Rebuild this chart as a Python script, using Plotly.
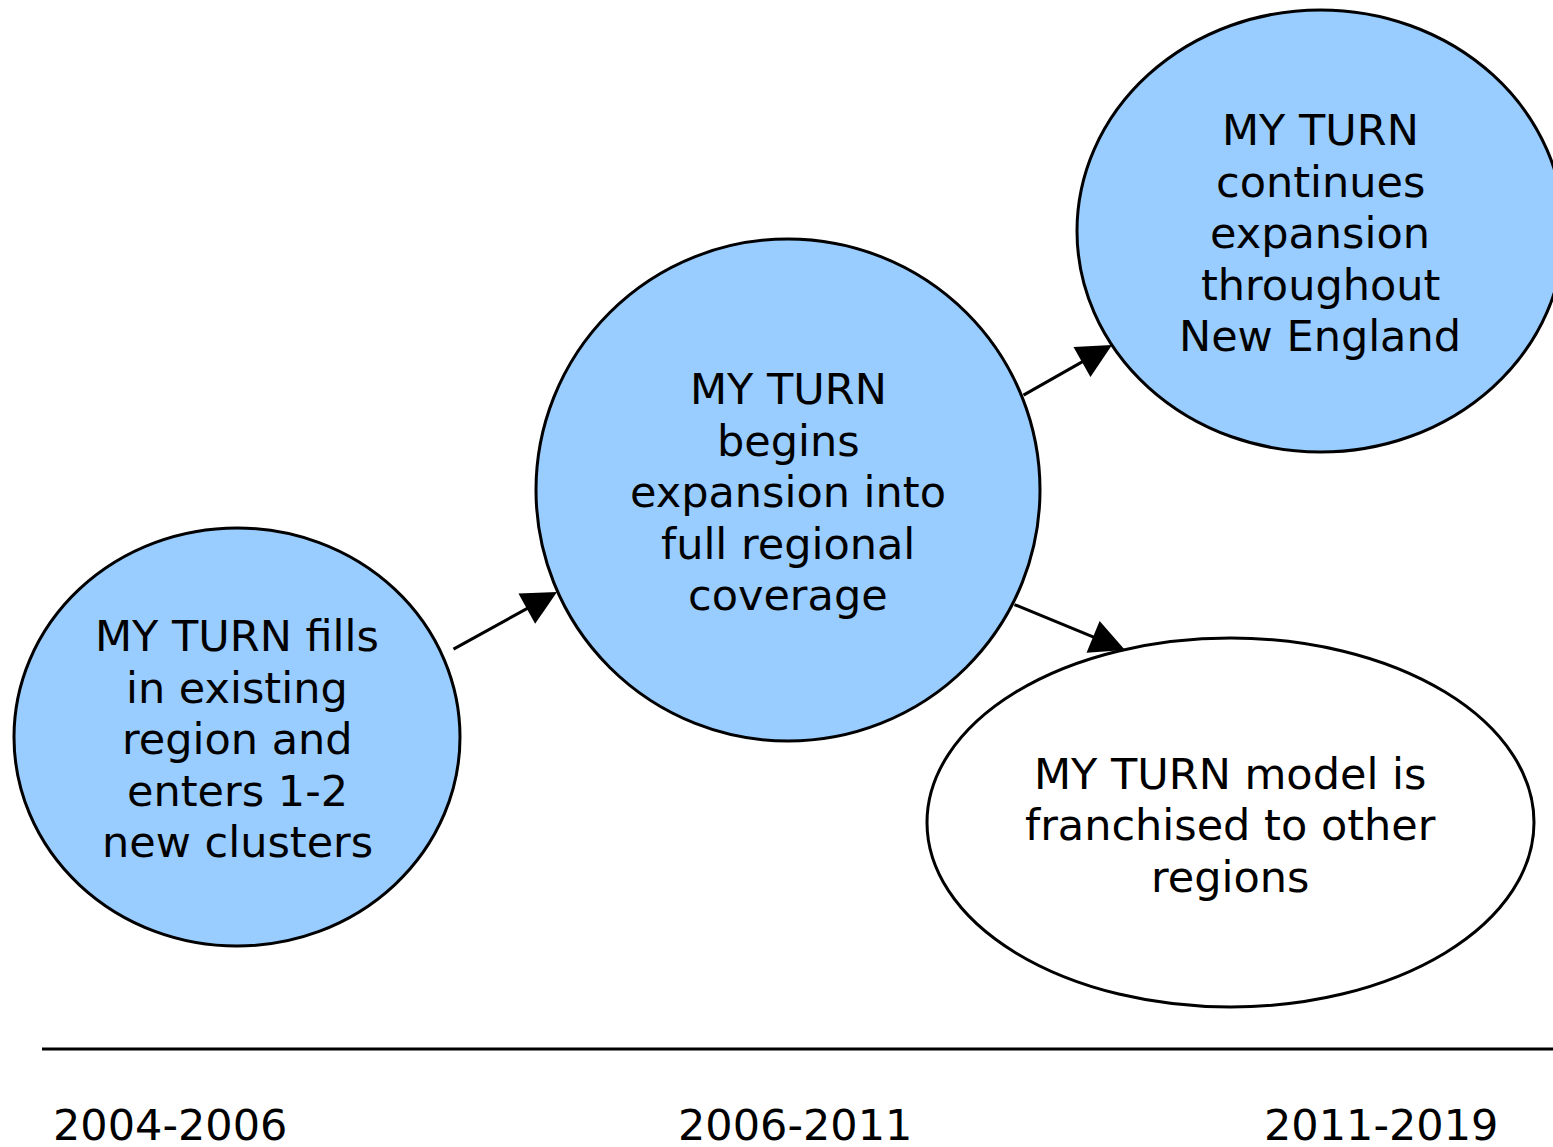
import plotly.graph_objects as go

# Content
stage_lines = [
    ["MY TURN fills", "in existing", "region and", "enters 1-2", "new clusters"],
    ["MY TURN", "begins", "expansion into", "full regional", "coverage"],
    ["MY TURN", "continues", "expansion", "throughout", "New England"],
    ["MY TURN model is", "franchised to other", "regions"],
]
periods = ["2004-2006", "2006-2011", "2011-2019"]

# Layout (page pixel space)
W, H = 1553, 1147
ellipses = [  # x0, y0, x1, y1, fill
    (14, 528, 460, 946, "#99CCFF"),
    (536, 239, 1040, 741, "#99CCFF"),
    (1077, 10, 1564, 452, "#99CCFF"),
    (927, 638, 1534, 1007, "#FFFFFF"),
]
text_pos = [(237, 739), (788, 492), (1320, 233), (1230, 825)]
LINE_GAP = 51.5
period_pos = [(170, 1125), (795, 1125), (1381, 1125)]
arrows = [  # tail x, tail y, tip x, tip y
    (452, 650, 557, 592),
    (1022, 396, 1112, 345),
    (1013, 604, 1125, 650),
]
FONT = "DejaVu Sans, Verdana, sans-serif"
FS = 43

fig = go.Figure()
fig.add_trace(go.Scatter(x=[0, W], y=[0, H], mode="markers",
                         marker=dict(opacity=0), hoverinfo="skip", showlegend=False))

for x0, y0, x1, y1, fill in ellipses:
    fig.add_shape(type="circle", xref="x", yref="y", x0=x0, y0=y0, x1=x1, y1=y1,
                  fillcolor=fill, line=dict(color="black", width=3), layer="below")

for (tx, ty), lines in zip(text_pos, stage_lines):
    n = len(lines)
    for i, ln in enumerate(lines):
        fig.add_annotation(x=tx, y=ty + (i - (n - 1) / 2) * LINE_GAP, text=ln,
                           showarrow=False, xanchor="center", yanchor="middle",
                           font=dict(family=FONT, size=FS, color="black"))

for (tx, ty), p in zip(period_pos, periods):
    fig.add_annotation(x=tx, y=ty, text=p, showarrow=False, xanchor="center",
                       yanchor="middle", font=dict(family=FONT, size=FS, color="black"))

fig.add_shape(type="line", xref="x", yref="y", x0=42, y0=1049, x1=W + 5, y1=1049,
              line=dict(color="black", width=3))

for ax_, ay_, x_, y_ in arrows:
    fig.add_annotation(x=x_, y=y_, ax=ax_, ay=ay_, xref="x", yref="y", axref="x", ayref="y",
                       text="", showarrow=True, arrowhead=2, arrowsize=2.3, arrowwidth=3,
                       arrowcolor="black", standoff=0, startstandoff=0)

fig.update_xaxes(range=[0, W], visible=False, fixedrange=True)
fig.update_yaxes(range=[H, 0], visible=False, fixedrange=True)
fig.update_layout(width=W, height=H, margin=dict(l=0, r=0, t=0, b=0),
                  paper_bgcolor="white", plot_bgcolor="white", showlegend=False)

fig.write_html("out.html",
               config={"displayModeBar": False, "staticPlot": True},
               post_script="document.body.style.margin='0';"
                           "document.body.style.overflow='hidden';"
                           "document.documentElement.style.overflow='hidden';")
